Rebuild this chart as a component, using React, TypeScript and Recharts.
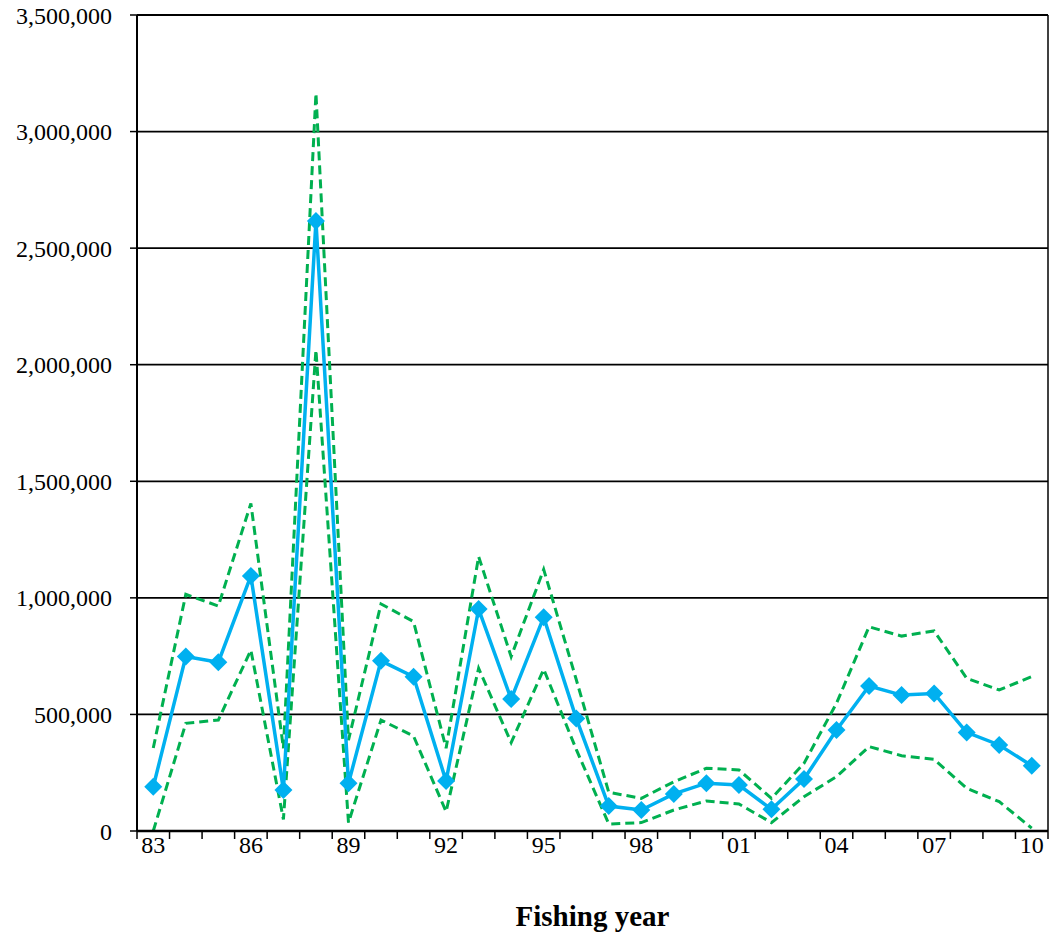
import React from 'react';
import { LineChart, Line, XAxis, YAxis, CartesianGrid } from 'recharts';

const years = ['83','84','85','86','87','88','89','90','91','92','93','94','95','96','97','98','99','00','01','02','03','04','05','06','07','08','09','10'];
const mainSeries = [190000, 748000, 724000, 1094000, 176000, 2616000, 205000, 730000, 662000, 214000, 952000, 566000, 917000, 483000, 107000, 90000, 159000, 205000, 197000, 93000, 223000, 433000, 622000, 583000, 590000, 423000, 369000, 280000];
const upperSeries = [356000, 1015000, 965000, 1405000, 355000, 3164000, 390000, 974000, 898000, 355000, 1177000, 748000, 1122000, 650000, 166000, 140000, 211000, 269000, 262000, 140000, 290000, 548000, 876000, 836000, 858000, 655000, 605000, 662000];
const lowerSeries = [0, 462000, 476000, 776000, 50000, 2063000, 36000, 476000, 407000, 83000, 698000, 379000, 694000, 350000, 30000, 36000, 90000, 129000, 116000, 36000, 147000, 233000, 362000, 323000, 307000, 183000, 126000, 12000];
const yTicks = [0, 500000, 1000000, 1500000, 2000000, 2500000, 3000000, 3500000];

const data = years.map((y, i) => ({ year: y, main: mainSeries[i], upper: upperSeries[i], lower: lowerSeries[i] }));

const W = 1050;
const H = 935;
const Y_AXIS_W = 137;
const RIGHT_AXIS_W = 2;
const PLOT_W = W - Y_AXIS_W - RIGHT_AXIS_W;
const BW = PLOT_W / years.length;
const FONT = '"Liberation Serif", "Times New Roman", serif';

const XTick = (props: any) => {
  const { x, y, index, payload } = props;
  const left = x - BW / 2;
  const right = x + BW / 2;
  return (
    <g>
      <line x1={left} x2={left} y1={y} y2={y + 8} stroke="#000" strokeWidth={1.5} />
      {index === years.length - 1 && (
        <line x1={right} x2={right} y1={y} y2={y + 8} stroke="#000" strokeWidth={1.5} />
      )}
      {index % 3 === 0 && (
        <text x={x} y={y + 22} textAnchor="middle" fontFamily={FONT} fontSize={24} fill="#000">
          {payload.value}
        </text>
      )}
    </g>
  );
};

const Diamond = (props: any) => {
  const { cx, cy } = props;
  if (cx == null || cy == null) return null;
  const r = 9;
  return <polygon points={`${cx},${cy - r} ${cx + r},${cy} ${cx},${cy + r} ${cx - r},${cy}`} fill="#00B0F0" />;
};

const fmt = (v: number) => v.toLocaleString('en-US');

const XLabel = (props: any) => {
  const { viewBox } = props;
  return (
    <text x={viewBox.x + viewBox.width / 2} y={viewBox.y + 95} textAnchor="middle" fontFamily={FONT} fontSize={29} fontWeight="bold" fill="#000">
      Fishing year
    </text>
  );
};

export default function App() {
  return (
    <div style={{ position: 'absolute', left: 0, top: 0, background: '#fff' }}>
      <LineChart width={W} height={H} data={data} margin={{ top: 15, right: 0, bottom: 0, left: 0 }}>
        <CartesianGrid vertical={false} stroke="#000" strokeWidth={1.8} />
        <XAxis
          dataKey="year"
          scale="band"
          interval={0}
          height={104}
          tickLine={false}
          tickSize={0}
          tickMargin={0}
          axisLine={{ stroke: '#000', strokeWidth: 2.5 }}
          tick={<XTick />}
          label={<XLabel />}
        />
        <YAxis
          width={Y_AXIS_W}
          domain={[0, 3500000]}
          ticks={yTicks}
          tickFormatter={fmt}
          tickSize={7}
          tickMargin={18}
          tickLine={{ stroke: '#000', strokeWidth: 1.5 }}
          axisLine={{ stroke: '#000', strokeWidth: 2 }}
          tick={{ fontFamily: FONT, fontSize: 24, fill: '#000' }}
        />
        <YAxis
          yAxisId="r"
          orientation="right"
          width={RIGHT_AXIS_W}
          domain={[0, 3500000]}
          tick={false}
          tickLine={false}
          axisLine={{ stroke: '#000', strokeWidth: 1.5 }}
        />
        <Line dataKey="upper" stroke="#00B050" strokeWidth={3} strokeDasharray="9 5" dot={false} isAnimationActive={false} />
        <Line dataKey="lower" stroke="#00B050" strokeWidth={3} strokeDasharray="9 5" dot={false} isAnimationActive={false} />
        <Line dataKey="main" stroke="#00B0F0" strokeWidth={3.5} dot={<Diamond />} activeDot={false} isAnimationActive={false} />
      </LineChart>
    </div>
  );
}
